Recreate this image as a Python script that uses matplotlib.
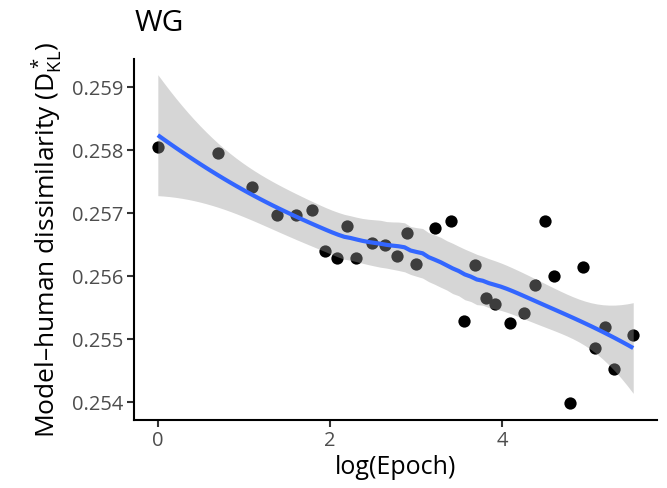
import numpy as np
import matplotlib
matplotlib.use("Agg")
import matplotlib.pyplot as plt

# Training epochs and model-human dissimilarity per epoch
epochs = [1, 2, 3, 4, 5, 6, 7, 8, 9, 10, 12, 14, 16, 18, 20, 25, 30, 35, 40,
          45, 50, 60, 70, 80, 90, 100, 120, 140, 160, 180, 200, 250]
dkl = [0.25805, 0.25795, 0.25741, 0.25697, 0.25697, 0.25705, 0.25640, 0.25629,
       0.25679, 0.25629, 0.25653, 0.25650, 0.25632, 0.25668, 0.25619, 0.25677,
       0.25688, 0.25529, 0.25617, 0.25566, 0.25555, 0.25526, 0.25541, 0.25586,
       0.25687, 0.25600, 0.25399, 0.25614, 0.25486, 0.25520, 0.25453, 0.25507]

title = "WG"
xlabel = "log(Epoch)"
ylabel = r"Model–human dissimilarity ($\mathregular{D^*_{KL}}$)"
xticks = [0, 2, 4]
yticks = [0.254, 0.255, 0.256, 0.257, 0.258, 0.259]

x = np.log(np.array(epochs, dtype=float))
y = np.array(dkl)


def loess_rows(x, x0s, span=0.75):
    """Local quadratic smoother rows (tricube weights, nearest-neighbour span)."""
    n = len(x)
    q = int(np.floor(n * span))
    rows = []
    for x0 in x0s:
        d = np.abs(x - x0)
        h = np.sort(d)[q - 1]
        u = np.clip(d / h, 0, 1)
        w = (1 - u ** 3) ** 3
        X = np.column_stack([np.ones(n), x - x0, (x - x0) ** 2])
        XtW = X.T * w
        A = np.linalg.solve(XtW @ X, XtW)
        rows.append(A[0])
    return np.array(rows)


def t_quantile(p, df):
    # Cornish-Fisher expansion of the Student t quantile around the normal one
    a = [2.515517, 0.802853, 0.010328]
    b = [1.432788, 0.189269, 0.001308]
    tt = np.sqrt(-2 * np.log(1 - p))
    z = tt - (a[0] + a[1] * tt + a[2] * tt ** 2) / (1 + b[0] * tt + b[1] * tt ** 2 + b[2] * tt ** 3)
    g1 = (z ** 3 + z) / 4
    g2 = (5 * z ** 5 + 16 * z ** 3 + 3 * z) / 96
    g3 = (3 * z ** 7 + 19 * z ** 5 + 17 * z ** 3 - 15 * z) / 384
    return z + g1 / df + g2 / df ** 2 + g3 / df ** 3


L = loess_rows(x, x)
n = len(x)
IL = np.eye(n) - L
M = IL.T @ IL
delta1 = np.trace(M)
delta2 = np.trace(M @ M)
resid = y - L @ y
sigma = np.sqrt(np.sum(resid ** 2) / delta1)
df = delta1 ** 2 / delta2
tq = t_quantile(0.975, df)

xs = np.linspace(x.min(), x.max(), 80)
Ls = loess_rows(x, xs)
fit = Ls @ y
se = sigma * np.sqrt(np.sum(Ls ** 2, axis=1))
lo = fit - tq * se
hi = fit + tq * se

plt.rcParams["font.family"] = ["Open Sans", "DejaVu Sans"]
plt.rcParams["mathtext.fontset"] = "custom"
plt.rcParams["mathtext.rm"] = "Open Sans"

fig = plt.figure(figsize=(6.67, 4.88), dpi=100)
ax = fig.add_axes([0.201, 0.139, 0.784, 0.740])

ax.scatter(x, y, s=78, color="black", linewidths=0, zorder=2)
ax.fill_between(xs, lo, hi, color="#999999", alpha=0.4, linewidth=0, zorder=3)
ax.plot(xs, fit, color="#3366FF", lw=3.0, zorder=4, solid_capstyle="butt")

xr = x.max() - x.min()
ax.set_xlim(x.min() - 0.05 * xr, x.max() + 0.05 * xr)
ax.set_ylim(0.253714, 0.259444)
ax.set_xticks(xticks)
ax.set_xticklabels([str(t) for t in xticks])
ax.set_yticks(yticks)
ax.set_yticklabels([f"{t:.3f}" for t in yticks])

for side in ["top", "right"]:
    ax.spines[side].set_visible(False)
for side in ["left", "bottom"]:
    ax.spines[side].set_linewidth(1.5)
    ax.spines[side].set_color("black")
ax.tick_params(axis="both", length=5, width=1.5, color="#333333",
               labelcolor="#4D4D4D", labelsize=14.5, pad=3)

ax.set_xlabel(xlabel, fontsize=18, labelpad=3)
ax.set_ylabel(ylabel, fontsize=19, labelpad=5)
ax.set_title(title, fontsize=21.5, loc="left", pad=20)

fig.savefig("out.png", dpi=100)
